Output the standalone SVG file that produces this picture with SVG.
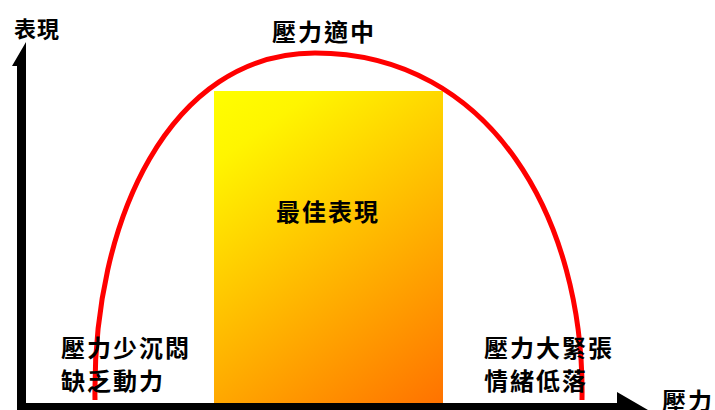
<svg xmlns="http://www.w3.org/2000/svg" width="715" height="410" viewBox="0 0 715 410">
<defs>
<linearGradient id="g" gradientUnits="userSpaceOnUse" x1="214" y1="91" x2="443" y2="410">
<stop offset="0" stop-color="#FFFF00"/>
<stop offset="0.15" stop-color="#FFF500"/>
<stop offset="1" stop-color="#FF7000"/>
</linearGradient>
<style>
.t{font-family:"Noto Sans CJK TC","Noto Sans CJK SC",sans-serif;font-weight:bold;font-size:24px;fill:#000;letter-spacing:2px}
</style>
</defs>
<rect width="715" height="410" fill="#fff"/>
<g id="zone">
<rect x="214" y="91" width="229" height="319" fill="url(#g)"/>
</g>
<g id="curve">
<path d="M95,400 C92,220 170,53 315,53 C491,53 585,220 582,400" fill="none" stroke="#FF0000" stroke-width="5"/>
</g>
<g id="axes">
<polygon points="17,410 17,66 12,66 26,42 26,410" fill="#000"/>
<polygon points="17,403 617,403 617,392 648,410 17,410" fill="#000"/>
</g>
<g id="labels">
<text class="t" x="14" y="37" style="font-size:22px;letter-spacing:1px">表現</text>
<text class="t" x="272" y="41">壓力適中</text>
<text class="t" x="276" y="221">最佳表現</text>
<text class="t" x="61" y="357">壓力少沉悶</text>
<text class="t" x="61" y="390">缺乏動力</text>
<text class="t" x="484" y="357">壓力大緊張</text>
<text class="t" x="484" y="390">情緒低落</text>
<text class="t" x="662" y="410">壓力</text>
</g>
</svg>
